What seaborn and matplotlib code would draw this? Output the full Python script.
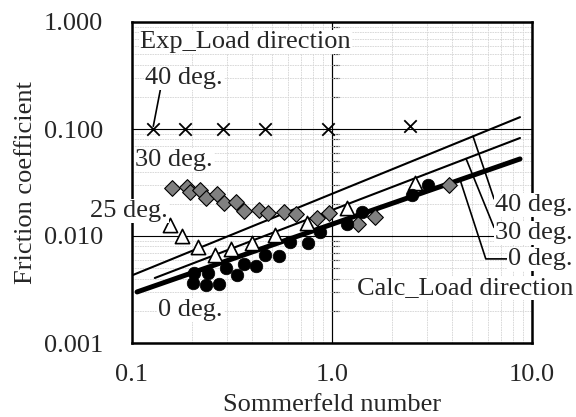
#Friction coefficient vs Sommerfeld number, log-log chart
#experimental points (markers) and calculated lines for each load direction

#import packages
import matplotlib
matplotlib.use("Agg")
from matplotlib import pyplot as plt
import seaborn as sns
import matplotlib.ticker as mtick

exp40_x = [0.127, 0.184, 0.285, 0.462, 0.955, 2.45]
exp40_y = [0.100, 0.100, 0.100, 0.100, 0.100, 0.107]

exp30_x = [0.158, 0.188, 0.195, 0.219, 0.234, 0.266, 0.288, 0.331, 0.363,
           0.432, 0.479, 0.575, 0.661, 0.841, 0.966, 1.35, 1.64, 3.85]
exp30_y = [0.0281, 0.0287, 0.0258, 0.0269, 0.0226, 0.0247, 0.0203, 0.0208, 0.0171,
           0.0175, 0.0164, 0.0168, 0.0161, 0.0147, 0.0164, 0.0129, 0.0151, 0.0300]

exp25_x = [0.155, 0.178, 0.214, 0.260, 0.313, 0.398, 0.519, 0.750, 1.19, 2.60]
exp25_y = [0.01267, 0.0100, 0.00789, 0.00664, 0.00756, 0.00861, 0.0102, 0.0132, 0.0183, 0.0313]

exp0_x = [0.202, 0.204, 0.234, 0.240, 0.272, 0.295, 0.335, 0.363, 0.417,
          0.462, 0.543, 0.617, 0.759, 0.871, 1.19, 1.41, 2.51, 3.02]
exp0_y = [0.00364, 0.00451, 0.00348, 0.00451, 0.00356, 0.00502, 0.00432, 0.00547, 0.00525,
          0.00664, 0.00650, 0.00879, 0.00861, 0.0109, 0.0129, 0.0168, 0.0242, 0.0300]

#calculated lines (straight in log-log)
calc40_x = [0.101, 8.71]
calc40_y = [0.00432, 0.129]
calc30_x = [0.130, 8.71]
calc30_y = [0.00405, 0.0824]
calc0_x = [0.106, 8.71]
calc0_y = [0.0030, 0.0525]

#axis ticks
x_ticks = [0.1, 1.0, 10.0]
x_tick_labels = ["0.1", "1.0", "10.0"]
y_ticks = [0.001, 0.01, 0.1, 1.0]
y_tick_labels = ["0.001", "0.010", "0.100", "1.000"]

sns.set_style("white")
plt.rcParams['font.family'] = ['Liberation Serif', 'DejaVu Serif']
plt.rcParams['font.size'] = 19

fig = plt.figure(figsize=(5.76, 4.17), dpi=100)
ax = fig.add_axes([132/576, 74/417, 400/576, 321/417])

#secondary axis so the value axis can cross at 1.0 (ticks only)
ax2 = ax.twinx()
ax.set_zorder(2)
ax.patch.set_visible(False)
ax2.set_zorder(1)

for a in (ax, ax2):
    a.set_xscale("log")
    a.set_yscale("log")
    a.set_xlim(0.1, 10)
    a.set_ylim(0.001, 1)

for s in ["top", "left", "bottom"]:
    ax2.spines[s].set_visible(False)
ax2.spines["right"].set_position(("data", 1.0))
ax2.spines["right"].set_linewidth(0.8)
ax2.tick_params(axis="y", which="both", direction="out", right=True,
                labelright=False, length=5, width=0.8, color="black")

#grid
ax.set_axisbelow(True)
ax.grid(which="minor", color="#d4d4d4", ls=(0, (2, 1)), lw=0.6)
ax.grid(which="major", color="black", lw=0.8)

#calculated lines
sns.lineplot(x=calc40_x, y=calc40_y, ax=ax, color="black", lw=1.5)
sns.lineplot(x=calc30_x, y=calc30_y, ax=ax, color="black", lw=1.5)
sns.lineplot(x=calc0_x, y=calc0_y, ax=ax, color="black", lw=3.6)

#experimental points
sns.scatterplot(x=exp40_x, y=exp40_y, ax=ax, marker="x", s=80, color="black",
                linewidth=1.3, zorder=2.6)
sns.scatterplot(x=exp30_x, y=exp30_y, ax=ax, marker="D", s=64, color="#808080",
                edgecolor="black", linewidth=0.8, zorder=2.6)
sns.scatterplot(x=exp25_x, y=exp25_y, ax=ax, marker="^", s=105, color="white",
                edgecolor="black", linewidth=1.2, zorder=2.6)
sns.scatterplot(x=exp0_x, y=exp0_y, ax=ax, marker="o", s=82, color="black",
                edgecolor="black", linewidth=0.5, zorder=2.6)

#axes, ticks, labels
ax.set_xticks(x_ticks)
ax.set_xticklabels(x_tick_labels)
ax.set_yticks(y_ticks)
ax.set_yticklabels(y_tick_labels)
ax.xaxis.set_minor_formatter(mtick.NullFormatter())
ax.yaxis.set_minor_formatter(mtick.NullFormatter())
ax.tick_params(axis="x", which="both", length=0, pad=15)
ax.tick_params(axis="y", which="both", length=0, pad=21)
ax.set_xlabel("Sommerfeld number", labelpad=6)
ax.set_ylabel("Friction coefficient", labelpad=5)
for s in ax.spines.values():
    s.set_linewidth(1.8)
    s.set_color("black")

#text labels
box = dict(facecolor="white", edgecolor="none", pad=1)
ax.text(0.02, 0.938, "Exp_Load direction", transform=ax.transAxes,
        ha="left", va="center", bbox=box, zorder=4)
ax.annotate("40 deg.", xy=(exp40_x[0], exp40_y[0]), xytext=(0.0325, 0.826),
            textcoords="axes fraction", ha="left", va="center", bbox=box, zorder=4,
            arrowprops=dict(arrowstyle="-", color="black", lw=1.2, relpos=(0.2, 0),
                            shrinkA=0, shrinkB=2))
ax.text(0.0075, 0.570, "30 deg.", transform=ax.transAxes,
        ha="left", va="center", bbox=box, zorder=4)
ax.text(0.09, 0.411, "25 deg.", transform=ax.transAxes,
        ha="right", va="center", bbox=box, zorder=4)
ax.text(0.065, 0.103, "0 deg.", transform=ax.transAxes,
        ha="left", va="center", bbox=box, zorder=4)
ax.text(1.1025, 0.171, "Calc_Load direction", transform=ax.transAxes,
        ha="right", va="center", bbox=box, zorder=4)

#calc labels with leader lines
ax.annotate("40 deg.", xy=(5.07, 0.0855), xytext=(1.1025, 0.43),
            textcoords="axes fraction", ha="right", va="center", bbox=box, zorder=4,
            arrowprops=dict(arrowstyle="-", color="black", lw=1.2, relpos=(0, 0.6),
                            shrinkA=0, shrinkB=0))
ax.annotate("30 deg.", xy=(4.68, 0.0528), xytext=(1.1025, 0.343),
            textcoords="axes fraction", ha="right", va="center", bbox=box, zorder=4,
            arrowprops=dict(arrowstyle="-", color="black", lw=1.2, relpos=(0, 0.6),
                            shrinkA=0, shrinkB=0))
ax.annotate("0 deg.", xy=(4.37, 0.0335), xytext=(1.1025, 0.262),
            textcoords="axes fraction", ha="right", va="center", bbox=box, zorder=4,
            arrowprops=dict(arrowstyle="-", color="black", lw=1.2, relpos=(0, 0.5),
                            shrinkA=0, shrinkB=0,
                            connectionstyle="angle,angleA=0,angleB=-72,rad=0"))

fig.savefig("out.png", dpi=100)
